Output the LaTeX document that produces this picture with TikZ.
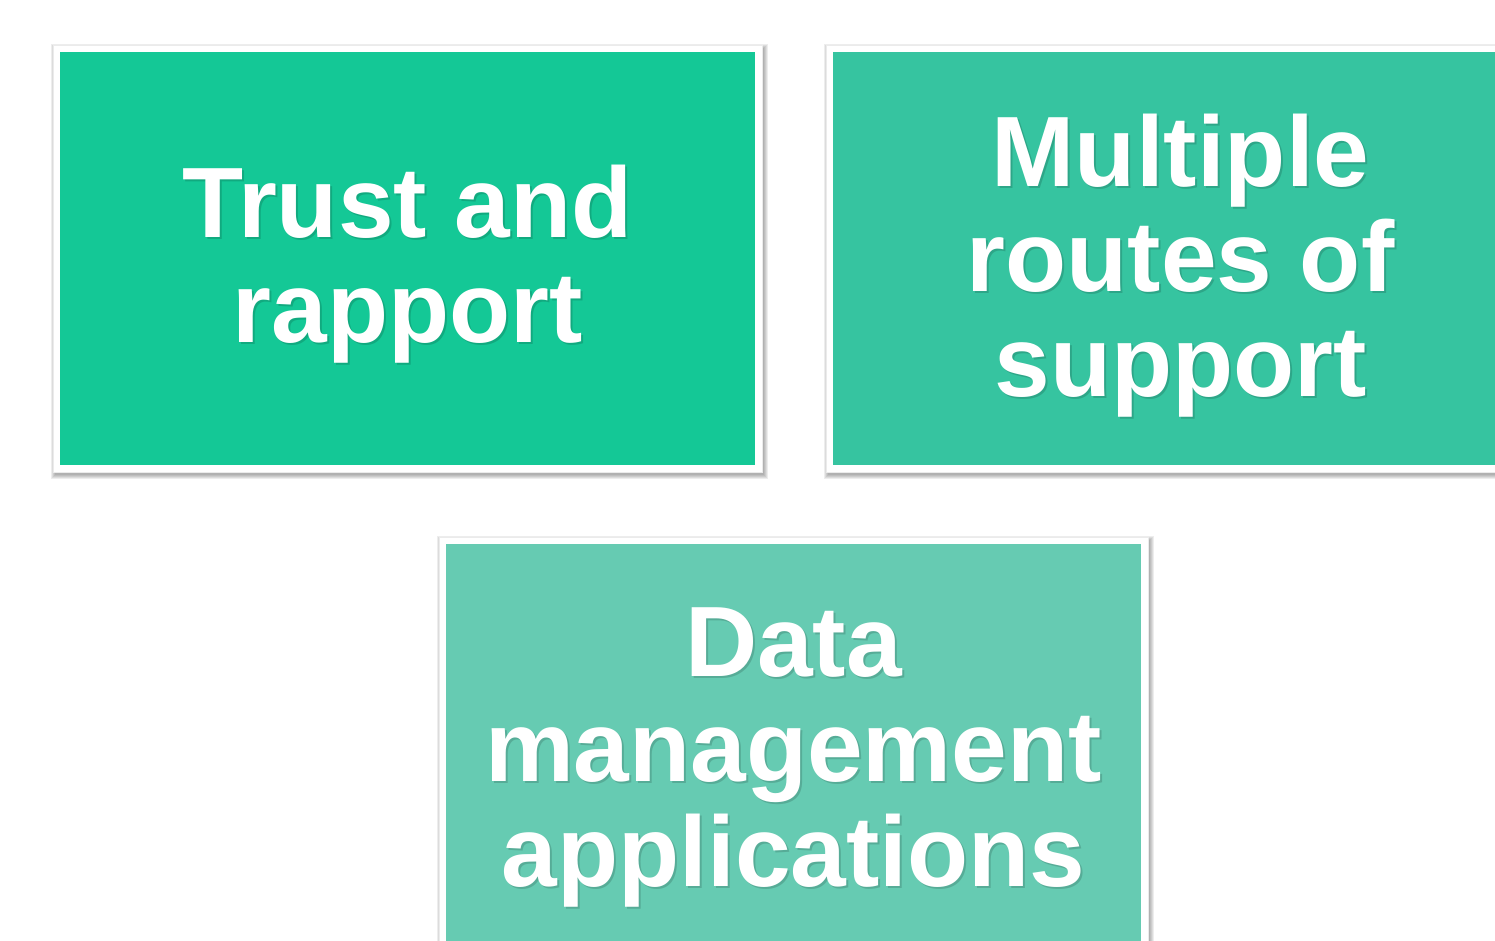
\documentclass[tikz,border=0pt]{standalone}
\usepackage{fontspec}
\setmainfont{Liberation Sans}
\usetikzlibrary{backgrounds}
\definecolor{tealA}{RGB}{20,200,150}
\definecolor{tealB}{RGB}{54,196,160}
\definecolor{tealC}{RGB}{102,203,178}
% soft grey shadow around a card, slightly down and to the right
\newcommand\softshadow[1]{%
  \foreach \k in {0,1,2,3,4}{%
    \fill[black, opacity=0.07]
      ([shift={(-3.5+2-\k*1.0,-3.5+3-\k*1.0)}]#1.north west) rectangle
      ([shift={(3.5+2+\k*1.0,3.5+3+\k*1.0)}]#1.south east);}}
\begin{document}
\begin{tikzpicture}[x=1pt,y=-1pt,
  card/.style={draw=white, line width=7pt, inner sep=0pt, outer sep=0pt,
    minimum width=702pt, minimum height=420pt},
  rim/.style={draw=black!8, line width=0.6pt},
  cardtext/.style={text=white, align=center, inner sep=0pt,
    font=\fontsize{100}{105}\selectfont\bfseries},
  cardshade/.style={cardtext, text=black, text opacity=0.15}
]
\useasboundingbox (0,0) rectangle (1495,940);
% the three cards
\node[card, fill=tealA] (trust) at (407.5,258.5) {};
\node[card, fill=tealB] (routes) at (1180.5,258.5) {};
\node[card, fill=tealC] (data) at (793.5,750.5) {};
\begin{scope}[on background layer]
  \softshadow{trust}
  \softshadow{routes}
  \softshadow{data}
\end{scope}
% faint rim along the white frames
\foreach \c in {trust,routes,data}{
  \draw[rim] ([shift={(-3.6,-3.6)}]\c.north west) rectangle ([shift={(3.6,3.6)}]\c.south east);}
% soft shadow under the lettering, then the lettering
\node[cardshade] (trustS)  at (409.5,266) {Trust and\\rapport};
\node[cardtext]  (trustT)  at (407.5,264) {Trust and\\rapport};
\node[cardshade] (routesS) at (1182.5,267.5) {Multiple\\routes of\\support};
\node[cardtext]  (routesT) at (1180.5,265.5) {Multiple\\routes of\\support};
\node[cardshade] (dataS)   at (795.5,759) {Data\\management\\applications};
\node[cardtext]  (dataT)   at (793.5,757) {Data\\management\\applications};
\end{tikzpicture}
\end{document}
